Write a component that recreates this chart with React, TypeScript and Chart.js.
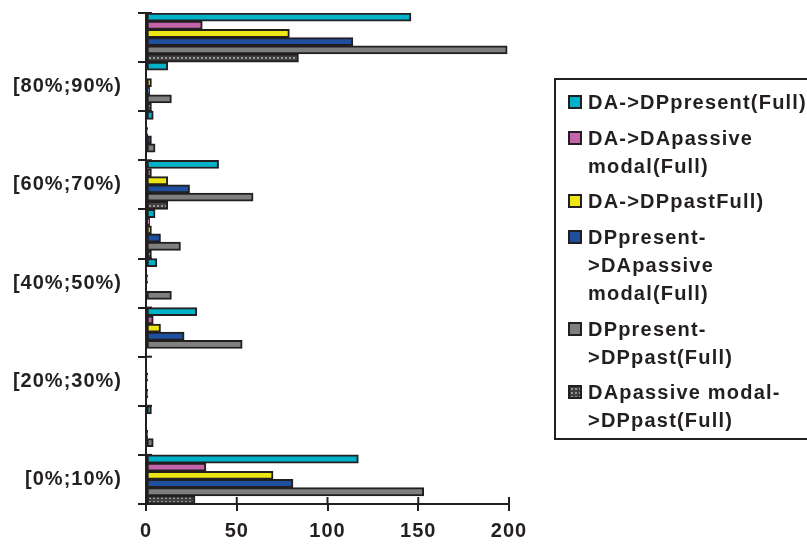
import React, { useEffect, useRef } from 'react';
import { Chart, registerables } from 'chart.js';

Chart.register(...registerables);

// Categories, bottom to top
const categories = ['[0%;10%)', '[10%;20%)', '[20%;30%)', '[30%;40%)', '[40%;50%)', '[50%;60%)', '[60%;70%)', '[70%;80%)', '[80%;90%)', '[90%;100%]'];

const seriesLines: string[][] = [
  ['DA->DPpresent(Full)'],
  ['DA->DApassive', 'modal(Full)'],
  ['DA->DPpastFull)'],
  ['DPpresent-', '>DApassive', 'modal(Full)'],
  ['DPpresent-', '>DPpast(Full)'],
  ['DApassive modal-', '>DPpast(Full)'],
];

const daDpPresent = [117, 3, 0, 28, 6, 5, 40, 4, 12, 146];
const daDaPassiveModal = [33, 0, 0, 4, 0, 2, 3, 0, 0, 31];
const daDpPast = [70, 0, 1, 8, 1, 3, 12, 1, 3, 79];
const dpPresentDaPassiveModal = [81, 1, 0, 21, 0, 8, 24, 3, 2, 114];
const dpPresentDpPast = [153, 4, 1, 53, 14, 19, 59, 5, 14, 199];
const daPassiveModalDpPast = [27, 0, 0, 0, 0, 3, 12, 0, 3, 84];

const xTicks = [0, 50, 100, 150, 200];

const colors = ['#00b2c9', '#c464aa', '#ece613', '#1f4f9f', '#7e807f', 'PATTERN'];
const INK = '#231f20';
const FONT = "'Liberation Sans', Arial, sans-serif";

function makePatternCanvas() {
  const c = document.createElement('canvas');
  c.width = 4;
  c.height = 4;
  const g = c.getContext('2d')!;
  g.fillStyle = '#404040';
  g.fillRect(0, 0, 4, 4);
  g.fillStyle = '#969696';
  g.fillRect(1, 1, 2, 2);
  return c;
}

const spacingPlugin = {
  id: 'letterSpacing',
  beforeUpdate(chart: any) { (chart.ctx as any).letterSpacing = '1px'; },
  beforeLayout(chart: any) { (chart.ctx as any).letterSpacing = '1px'; },
  beforeDraw(chart: any) { (chart.ctx as any).letterSpacing = '1px'; },
};

const crossTicksPlugin = {
  id: 'crossTicks',
  beforeDatasetsDraw(chart: any) {
    const { ctx, chartArea, scales } = chart;
    ctx.save();
    ctx.strokeStyle = INK;
    ctx.lineWidth = 2;
    xTicks.forEach((v) => {
      const px = scales.x.getPixelForValue(v);
      ctx.beginPath();
      ctx.moveTo(px, chartArea.bottom);
      ctx.lineTo(px, chartArea.bottom - 7);
      ctx.stroke();
    });
    for (let i = 0; i <= categories.length; i++) {
      const py = scales.y.getPixelForValue(i - 0.5);
      ctx.beginPath();
      ctx.moveTo(chartArea.left, py);
      ctx.lineTo(chartArea.left + 6, py);
      ctx.stroke();
    }
    ctx.restore();
  },
};

export default function App() {
  const canvasRef = useRef<HTMLCanvasElement>(null);
  const patternCanvas = React.useMemo(() => makePatternCanvas(), []);
  const patternUrl = React.useMemo(() => patternCanvas.toDataURL(), [patternCanvas]);

  useEffect(() => {
    const canvas = canvasRef.current!;
    const ctx = canvas.getContext('2d')!;
    const pattern = ctx.createPattern(patternCanvas, 'repeat');
    const values = [daDpPresent, daDaPassiveModal, daDpPast, dpPresentDaPassiveModal, dpPresentDpPast, daPassiveModalDpPast];
    const chart = new Chart(canvas, {
      type: 'bar',
      data: {
        labels: categories,
        datasets: values.map((d, i) => ({
          label: seriesLines[i].join(' '),
          data: d,
          backgroundColor: colors[i] === 'PATTERN' ? (pattern as any) : colors[i],
          borderColor: INK,
          borderWidth: 2,
          borderSkipped: false,
          categoryPercentage: 1,
          barPercentage: 1,
        })),
      },
      options: {
        indexAxis: 'y',
        responsive: false,
        animation: false,
        devicePixelRatio: 1,
        layout: { padding: { top: 13, right: 298, bottom: 0, left: 0 } },
        plugins: { legend: { display: false }, tooltip: { enabled: false } },
        scales: {
          x: {
            min: 0,
            max: 200,
            afterFit: (s: any) => { s.height = 45; s.paddingLeft = 0; s.paddingRight = 0; },
            afterBuildTicks: (s: any) => { s.ticks = xTicks.map((v) => ({ value: v })); },
            grid: { drawOnChartArea: false, tickLength: 7, color: INK, lineWidth: 2 },
            border: { display: true, color: INK, width: 2 },
            ticks: { color: INK, font: { family: FONT, size: 20, weight: 'bold' }, padding: 8, maxRotation: 0 },
          },
          y: {
            reverse: true,
            afterFit: (s: any) => { s.width = 146; s.paddingTop = 0; s.paddingBottom = 0; },
            grid: { drawOnChartArea: false, tickLength: 8, color: INK, lineWidth: 2, offset: true },
            border: { display: true, color: INK, width: 2 },
            ticks: {
              autoSkip: false,
              color: INK,
              padding: 16,
              font: { family: FONT, size: 20, weight: 'bold' },
              callback: (_v: any, i: number) => (i % 2 === 0 && i < 9 ? categories[i] : ''),
            },
          },
        },
      } as any,
      plugins: [spacingPlugin, crossTicksPlugin],
    });
    return () => chart.destroy();
  }, [patternCanvas]);

  return (
    <div style={{ position: 'fixed', left: 0, top: 0, width: 807, height: 549, overflow: 'hidden', background: '#fff' }}>
      <canvas ref={canvasRef} width={807} height={549} style={{ position: 'absolute', left: 0, top: 0 }} />
      <div
        style={{
          position: 'absolute', left: 554, top: 78, width: 290, height: 362, boxSizing: 'border-box',
          border: `2px solid ${INK}`, paddingTop: 8, paddingLeft: 12,
          fontFamily: FONT, fontWeight: 'bold', fontSize: 20, letterSpacing: '1.2px', lineHeight: '28px', color: INK,
        }}
      >
        {seriesLines.map((lines, i) => (
          <div key={i} style={{ display: 'flex', alignItems: 'flex-start', marginBottom: 7.7 }}>
            <div
              style={{
                width: 14, height: 14, marginTop: 7, marginRight: 6, flex: 'none', boxSizing: 'border-box',
                border: `2px solid ${INK}`,
                background: colors[i] === 'PATTERN' ? `url(${patternUrl})` : colors[i],
              }}
            />
            <div style={{ whiteSpace: 'nowrap' }}>
              {lines.map((l, j) => (
                <div key={j}>{l}</div>
              ))}
            </div>
          </div>
        ))}
      </div>
    </div>
  );
}
